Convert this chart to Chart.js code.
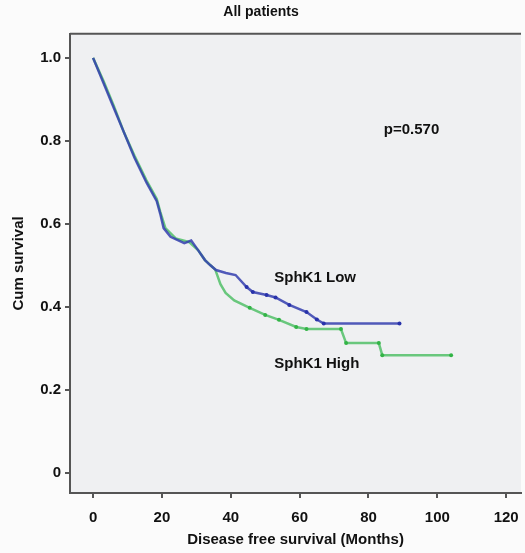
<!DOCTYPE html>
<html>
<head>
<meta charset="utf-8">
<script src="https://cdn.jsdelivr.net/npm/chart.js@4.4.1/dist/chart.umd.min.js"></script>
<style>
  html, body { margin: 0; padding: 0; background: #fbfbfb; }
  #wrap { width: 525px; height: 553px; }
</style>
</head>
<body>
<div id="wrap"><canvas id="kmChart" width="525" height="553"></canvas></div>
<script>
// Kaplan-Meier curves (months, cum survival)
const lowMonths  = [0, 3, 6, 9, 12, 15.5, 18.5, 19.5, 20.5, 22.5, 26.5, 28.5, 30.5, 32.5, 34, 35.7, 38.6, 41.4, 44.6, 46.4, 50.4, 53, 57, 62, 65, 67, 89];
const lowSurv    = [1.0, 0.94, 0.88, 0.82, 0.76, 0.70, 0.655, 0.625, 0.59, 0.569, 0.554, 0.56, 0.537, 0.513, 0.501, 0.489, 0.482, 0.477, 0.448, 0.436, 0.429, 0.423, 0.405, 0.388, 0.37, 0.36, 0.36];
const highMonths = [0, 3, 6, 9, 12, 15.5, 18.5, 19.5, 21, 24, 28, 30.5, 32.5, 35.5, 37, 38.5, 41, 45.5, 50, 54, 59, 62, 72, 73.5, 83, 84, 104];
const highSurv   = [1.0, 0.945, 0.885, 0.82, 0.765, 0.705, 0.66, 0.63, 0.59, 0.565, 0.556, 0.537, 0.513, 0.49, 0.455, 0.434, 0.416, 0.398, 0.381, 0.369, 0.352, 0.347, 0.347, 0.313, 0.313, 0.284, 0.284];

const xTicks = [0, 20, 40, 60, 80, 100, 120];
const yTicks = [0, 0.2, 0.4, 0.6, 0.8, 1.0];

// text inside the plot, in data coordinates
const noteTexts = ['p=0.570', 'SphK1 Low', 'SphK1 High'];
const noteX = [92.5, 64.5, 65];
const noteY = [0.827, 0.47, 0.263];

const FONT = "'Liberation Sans', Arial, sans-serif";

function toPoints(xs, ys) {
  return xs.map((x, i) => ({ x: x, y: ys[i] }));
}

// gray panel + top border line + notes
const panelPlugin = {
  id: 'panel',
  beforeDraw(chart) {
    const { ctx, chartArea: a } = chart;
    ctx.save();
    ctx.fillStyle = '#eff0f2';
    ctx.fillRect(a.left, a.top, a.right - a.left, a.bottom - a.top);
    ctx.strokeStyle = '#555';
    ctx.lineWidth = 2;
    ctx.beginPath();
    ctx.moveTo(a.left, a.top);
    ctx.lineTo(a.right, a.top);
    ctx.stroke();
    ctx.restore();
  },
  afterDatasetsDraw(chart) {
    const { ctx, scales } = chart;
    ctx.save();
    ctx.fillStyle = '#111';
    ctx.font = 'bold 15px ' + FONT;
    ctx.textAlign = 'center';
    ctx.textBaseline = 'middle';
    noteTexts.forEach((t, i) => {
      ctx.fillText(t, scales.x.getPixelForValue(noteX[i]), scales.y.getPixelForValue(noteY[i]));
    });
    ctx.restore();
  }
};

const tailDots = (ctx) => (ctx.raw && ctx.raw.x > 44 ? 2 : 0);

let ctx = document.getElementById('kmChart').getContext('2d');
let chart = new Chart(ctx, {
  type: 'line',
  data: {
    datasets: [{
      label: 'SphK1 Low',
      data: toPoints(lowMonths, lowSurv),
      borderColor: 'rgba(52, 62, 175, 0.85)',
      backgroundColor: 'rgba(40, 50, 170, 1)',
      borderWidth: 2.5,
      pointRadius: tailDots,
      pointBorderWidth: 0,
      tension: 0
    }, {
      label: 'SphK1 High',
      data: toPoints(highMonths, highSurv),
      borderColor: 'rgba(60, 185, 85, 0.75)',
      backgroundColor: 'rgba(50, 180, 70, 1)',
      borderWidth: 2.5,
      pointRadius: tailDots,
      pointBorderWidth: 0,
      tension: 0
    }]
  },
  options: {
    responsive: false,
    animation: false,
    layout: { padding: { right: 3, left: 0, top: 0, bottom: 0 } },
    plugins: {
      legend: { display: false },
      tooltip: { enabled: false },
      title: {
        display: true,
        text: 'All patients',
        color: '#111',
        font: { family: FONT, size: 14, weight: 'bold' },
        padding: { top: 4, bottom: 13 }
      }
    },
    scales: {
      x: {
        type: 'linear',
        min: -6.7,
        max: 124.3,
        afterFit(scale) {
          scale.height = 60;
          scale.paddingLeft = 0;
          scale.paddingRight = 0;
        },
        afterBuildTicks(scale) { scale.ticks = xTicks.map(v => ({ value: v })); },
        grid: { display: true, drawOnChartArea: false, drawTicks: true, tickLength: 5, color: '#555', lineWidth: 2 },
        border: { display: true, color: '#555', width: 2 },
        ticks: {
          color: '#111',
          padding: 11,
          font: { family: FONT, size: 15, weight: 'bold' },
          callback: v => String(v)
        },
        title: {
          display: true,
          text: 'Disease free survival (Months)',
          color: '#111',
          font: { family: FONT, size: 15, weight: 'bold' },
          padding: { top: 4, bottom: 4 }
        }
      },
      y: {
        type: 'linear',
        min: -0.048,
        max: 1.058,
        afterFit(scale) { scale.width = 70; },
        afterBuildTicks(scale) { scale.ticks = yTicks.map(v => ({ value: v })); },
        grid: { display: true, drawOnChartArea: false, drawTicks: true, tickLength: 5, color: '#555', lineWidth: 2 },
        border: { display: true, color: '#555', width: 2 },
        ticks: {
          color: '#111',
          padding: 4,
          font: { family: FONT, size: 15, weight: 'bold' },
          callback: v => (v === 0 ? '0' : v.toFixed(1))
        },
        title: {
          display: true,
          text: 'Cum survival',
          color: '#111',
          font: { family: FONT, size: 15, weight: 'bold' },
          padding: { top: 10, bottom: 4 }
        }
      }
    }
  },
  plugins: [panelPlugin]
});
</script>
</body>
</html>
